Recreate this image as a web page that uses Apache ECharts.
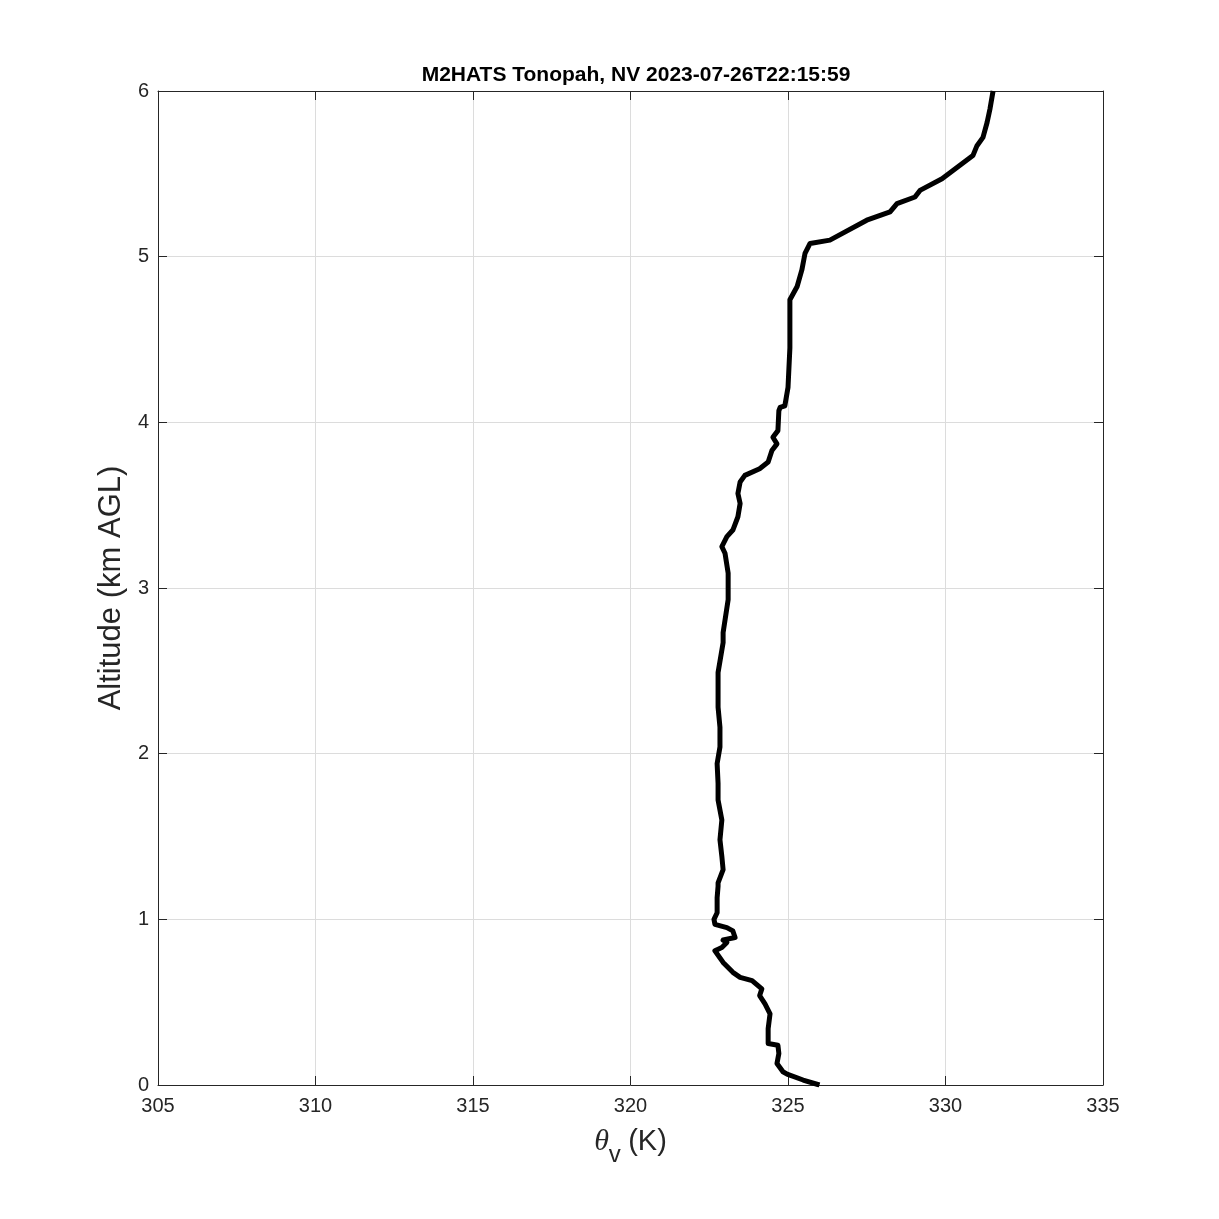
<!DOCTYPE html>
<html><head><meta charset="utf-8">
<script src="https://cdn.jsdelivr.net/npm/echarts@6/dist/echarts.min.js"></script>
<style>html,body{margin:0;padding:0;background:#fff}#c{width:1219px;height:1219px}</style>
</head><body><div id="c"></div>
<script>
const titleText = 'M2HATS Tonopah, NV 2023-07-26T22:15:59';
const xTicks = [305, 310, 315, 320, 325, 330, 335];
const yTicks = [0, 1, 2, 3, 4, 5, 6];
// theta_v (K)
const thetaV = [326.0, 325.48, 324.97, 324.84, 324.65, 324.71, 324.68, 324.37, 324.37, 324.43, 324.27, 324.1, 324.17, 323.86, 323.48, 323.25, 322.94, 322.68, 322.9, 323.06, 322.94, 323.32, 323.25, 323.06, 322.68, 322.65, 322.75, 322.75, 322.78, 322.78, 322.94, 322.9, 322.84, 322.9, 322.78, 322.78, 322.75, 322.84, 322.84, 322.78, 322.78, 322.94, 322.94, 323.1, 323.1, 323.0, 322.9, 323.06, 323.25, 323.41, 323.48, 323.41, 323.48, 323.63, 324.1, 324.37, 324.49, 324.65, 324.52, 324.68, 324.71, 324.75, 324.9, 325.0, 325.06, 325.06, 325.29, 325.44, 325.54, 325.7, 326.33, 327.5, 328.24, 328.46, 329.03, 329.19, 329.89, 330.87, 331.0, 331.19, 331.32, 331.41, 331.51];
// altitude (km AGL)
const altitude = [0.0, 0.03, 0.066, 0.08, 0.13, 0.19, 0.24, 0.25, 0.34, 0.43, 0.49, 0.54, 0.58, 0.63, 0.65, 0.68, 0.74, 0.81, 0.83, 0.86, 0.875, 0.89, 0.93, 0.95, 0.97, 1.0, 1.04, 1.13, 1.2, 1.22, 1.3, 1.38, 1.48, 1.6, 1.72, 1.82, 1.94, 2.04, 2.16, 2.28, 2.49, 2.67, 2.73, 2.93, 3.09, 3.21, 3.25, 3.31, 3.35, 3.43, 3.51, 3.57, 3.64, 3.68, 3.72, 3.76, 3.83, 3.87, 3.91, 3.95, 4.07, 4.09, 4.1, 4.21, 4.45, 4.74, 4.82, 4.92, 5.02, 5.08, 5.1, 5.22, 5.27, 5.32, 5.36, 5.40, 5.47, 5.61, 5.67, 5.72, 5.81, 5.89, 6.0];

const pts = thetaV.map((v, i) => [v, altitude[i]]);
const font = '"Liberation Sans", Arial, Helvetica, sans-serif';
const axisLine = {show: true, onZero: false, lineStyle: {color: '#262626', width: 1}};
const tick = {show: true, inside: true, length: 9, lineStyle: {color: '#262626'}};
const lbl = {color: '#262626', fontSize: 20, fontFamily: font};
const grid = {show: true, lineStyle: {color: '#dcdcdc', width: 1}};

const chart = echarts.init(document.getElementById('c'), null, {renderer: 'canvas'});
chart.setOption({
  backgroundColor: '#fff',
  animation: false,
  title: {text: titleText, left: 631, textAlign: 'center', top: 60,
    textStyle: {fontSize: 21, fontWeight: 'bold', color: '#000', fontFamily: font}},
  grid: {left: 158, right: 116, top: 91, bottom: 134, containLabel: false},
  xAxis: [
    {type: 'value', min: 305, max: 335, interval: 5, position: 'bottom',
     axisLine, axisTick: tick, splitLine: grid,
     axisLabel: {...lbl, margin: 11},
     name: '{t|θ}{s|v} {k|(K)}', nameLocation: 'middle', nameGap: 42,
     nameTextStyle: {rich: {
       t: {fontFamily: '"Liberation Serif", "DejaVu Serif", serif', fontStyle: 'italic', fontSize: 30, color: '#262626', verticalAlign: 'top', lineHeight: 40},
       s: {fontFamily: font, fontSize: 24, color: '#262626', verticalAlign: 'bottom', lineHeight: 40, padding: [14, 4, 0, 0]},
       k: {fontFamily: font, fontSize: 29, color: '#262626', verticalAlign: 'top', lineHeight: 40}
     }}},
    {type: 'value', min: 305, max: 335, interval: 5, position: 'top',
     axisLine, axisTick: tick, splitLine: {show: false}, axisLabel: {show: false}}
  ],
  yAxis: [
    {type: 'value', min: 0, max: 6, interval: 1, position: 'left',
     axisLine, axisTick: tick, splitLine: grid,
     axisLabel: {...lbl, margin: 9},
     name: 'Altitude (km AGL)', nameLocation: 'middle', nameGap: 27,
     nameTextStyle: {fontSize: 31, color: '#262626', fontFamily: font}},
    {type: 'value', min: 0, max: 6, interval: 1, position: 'right',
     axisLine, axisTick: tick, splitLine: {show: false}, axisLabel: {show: false}}
  ],
  series: [{
    type: 'line', data: pts, xAxisIndex: 0, yAxisIndex: 0,
    showSymbol: false, smooth: false,
    lineStyle: {color: '#000', width: 5, join: 'round'}
  }]
});
</script></body></html>
